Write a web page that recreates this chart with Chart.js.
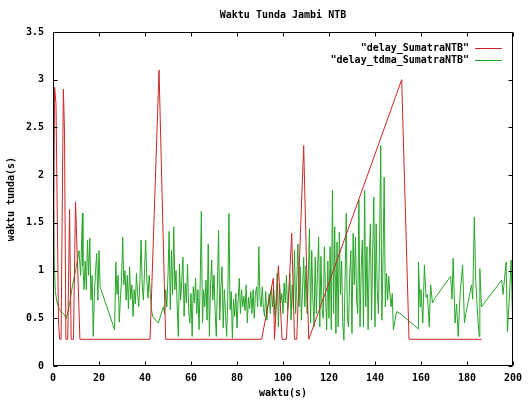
<!DOCTYPE html>
<html><head><meta charset="utf-8">
<style>html,body{margin:0;padding:0;background:#fff;}#wrap{width:528px;height:400px;}</style>
<script src="https://cdn.jsdelivr.net/npm/chart.js@4/dist/chart.umd.min.js"></script>
</head><body><div id="wrap"><canvas id="c" width="528" height="400"></canvas></div>
<script>
const chartTitle = 'Waktu Tunda Jambi NTB';
const xAxisTitle = 'waktu(s)';
const yAxisTitle = 'waktu tunda(s)';
const seriesLabels = ['"delay_SumatraNTB"', '"delay_tdma_SumatraNTB"'];
const xTicks = [0, 20, 40, 60, 80, 100, 120, 140, 160, 180, 200];
const yTicks = [0, 0.5, 1, 1.5, 2, 2.5, 3, 3.5];

const delayTime = [0, 0.7, 1.3, 2.4, 2.9, 3.5, 4.5, 5.0, 5.6, 6.4, 7.2, 7.9, 8.9, 9.8, 11.7,
  42.2, 46.1, 49.0, 90.7, 95.8, 96.3, 98.0, 99.6, 101.5, 103.8, 105.0, 106.0, 107.6, 109.0,
  110.2, 111.2, 151.6, 154.8, 186.5];
const delayValue = [0.28, 2.92, 2.75, 0.45, 0.28, 0.28, 2.90, 2.47, 0.28, 0.28, 1.64, 0.28, 0.28, 1.72, 0.28,
  0.28, 3.10, 0.28, 0.28, 0.92, 0.28, 1.05, 0.28, 0.28, 1.39, 0.28, 0.28, 1.40, 2.31,
  1.10, 0.28, 3.00, 0.28, 0.28];

const tdmaTime = [
  0, 0.3, 0.6, 1.0, 1.8, 3.0, 4.5, 5.8, 7.0, 8.5, 10.0, 11.3, 12.0, 12.8,
  13.0, 13.5, 14.0, 14.5, 15.0, 15.5, 16.0, 16.5, 17.0, 17.5, 18.0, 18.5, 19.0, 19.5, 20.0, 20.5, 20.9,
  26.8, 27.3, 27.8, 28.3, 28.8, 29.3, 29.8, 30.3, 30.8, 31.3, 31.8, 32.3, 32.8, 33.3, 33.8, 34.3,
  34.8, 35.3, 35.8, 36.3, 36.8, 37.3, 37.8, 38.3, 38.8, 39.3, 39.8, 40.3, 40.8, 41.3, 41.8, 42.3,
  42.8, 43.3, 45.8, 48.0,
  48.5, 49.0, 49.5, 50.0, 50.5, 51.0, 51.5, 52.0, 52.5, 53.0, 53.5, 54.0, 54.5, 55.0, 55.5, 56.0,
  56.5, 57.0, 57.5, 58.0, 58.5, 59.0, 59.5, 60.0, 60.5, 61.0, 61.5, 62.0, 62.5, 63.0, 63.5, 64.0,
  64.5, 65.0, 65.5, 66.0, 66.5, 67.0, 67.5, 68.0, 68.5, 69.0, 69.5, 70.0, 70.5, 71.0, 71.5, 72.0,
  72.5, 73.0, 73.5, 74.0, 74.5, 75.0, 75.5, 76.0, 76.5, 77.0, 77.5, 78.0, 78.5, 79.0, 79.5, 80.0,
  80.5, 81.0, 81.5, 82.0, 82.5, 83.0, 83.5, 84.0, 84.5, 85.0, 85.5, 86.0, 86.5, 87.0, 87.5, 88.0,
  88.5, 89.0, 89.5, 90.0, 90.5, 91.0, 91.5, 92.0, 92.5, 93.0,
  93.5, 94.0, 94.5, 95.0, 95.5, 96.0, 96.5, 97.0, 97.5, 98.0, 98.5, 99.0, 99.5, 100.0, 100.5, 101.0,
  101.5, 102.0, 102.5, 103.0, 103.5, 104.0, 104.5, 105.0, 105.5, 106.0, 106.5, 107.0, 107.5, 108.0,
  108.5, 109.0, 109.5, 110.0, 110.5, 111.0, 111.5, 112.0, 112.5, 113.0, 113.5, 114.0, 114.5, 115.0,
  115.5, 116.0, 116.5, 117.0, 117.5, 118.0, 118.5, 119.0, 119.5, 120.0, 120.5, 121.0, 121.5, 122.0,
  122.5, 123.0, 123.5, 124.0, 124.5, 125.0, 125.5, 126.0, 126.5, 127.0, 127.5, 128.0,
  128.5, 129.0, 129.5, 130.0, 130.5, 131.0, 131.5, 132.0, 132.5, 133.0, 133.5, 134.0, 134.5, 135.0,
  135.5, 136.0, 136.5, 137.0, 137.5, 138.0, 138.5, 139.0, 139.5, 140.0, 140.5, 141.0, 141.5, 142.0,
  142.5, 143.0, 143.5, 144.0, 144.5, 145.0, 145.5, 146.0, 146.5, 147.0, 147.5, 148.0, 149.4, 150.9,
  158.8, 158.9, 159.6, 160.0, 160.8, 161.5, 162.2, 162.8, 163.6, 164.2, 165.0, 166.0, 172.9, 173.5,
  174.0, 174.8, 175.5, 176.2, 177.0, 178.1, 178.9, 179.5, 182.0, 182.5, 183.2, 183.8, 184.6, 185.3,
  185.6, 186.3, 195.1, 195.7, 197.0, 197.6, 198.4, 199.2, 199.8, 200.9];
const tdmaValue = [
  1.28, 1.62, 1.05, 0.78, 0.66, 0.58, 0.55, 0.50, 0.62, 0.85, 1.02, 1.21, 0.95, 1.60,
  1.05, 0.80, 1.10, 0.80, 1.32, 0.95, 1.34, 0.69, 0.95, 0.31, 0.75, 1.00, 1.18, 0.69, 1.21, 0.83, 0.80,
  0.38, 1.09, 0.75, 0.95, 0.46, 0.70, 0.90, 1.35, 0.85, 1.00, 0.69, 0.95, 0.60, 1.04, 0.70, 0.85,
  0.52, 0.80, 0.65, 0.97, 0.75, 0.62, 0.90, 1.32, 0.85, 0.69, 1.00, 1.32, 0.90, 0.71, 0.95, 0.76,
  0.60, 0.52, 0.45, 0.62,
  0.55, 0.80, 0.62, 0.95, 1.41, 0.59, 1.21, 0.75, 1.46, 0.80, 1.00, 0.62, 0.31, 1.07, 0.69, 0.90,
  1.14, 0.52, 0.87, 0.66, 1.07, 0.58, 0.45, 0.76, 0.31, 0.83, 0.66, 0.92, 0.55, 0.80, 0.38, 0.87,
  1.62, 0.45, 0.80, 0.62, 0.90, 0.48, 1.28, 0.31, 0.85, 1.11, 0.69, 0.95, 0.58, 0.31, 0.87, 1.42,
  0.48, 0.82, 1.04, 0.40, 0.80, 0.55, 0.31, 0.72, 1.60, 0.59, 0.78, 0.29, 0.70, 0.52, 0.76, 0.40,
  0.68, 0.92, 0.55, 0.80, 0.62, 0.73, 0.58, 0.85, 0.45, 0.72, 0.60, 0.78, 0.55, 0.80, 0.50, 0.75,
  0.83, 0.62, 1.25, 0.70, 0.62, 0.83, 0.60, 0.52, 0.78, 0.48,
  0.65, 0.76, 0.55, 0.83, 0.62, 0.80, 0.52, 0.70, 0.97, 0.41, 0.87, 0.66, 0.76, 0.55, 0.87, 0.66,
  0.95, 0.58, 0.72, 0.97, 0.48, 0.85, 0.60, 1.21, 0.55, 0.90, 1.28, 0.62, 1.04, 0.48,
  0.80, 1.14, 0.62, 1.05, 0.55, 0.92, 1.44, 0.45, 1.21, 0.70, 0.41, 1.14, 0.55, 0.98,
  1.35, 0.41, 1.15, 0.60, 0.50, 1.25, 0.75, 0.38, 1.10, 0.50, 1.25, 0.38, 1.84, 0.55,
  1.46, 0.34, 1.30, 0.41, 1.40, 0.75, 1.10, 0.45, 0.27, 0.90, 1.60, 0.50,
  0.41, 0.95, 1.21, 0.34, 1.39, 0.85, 1.35, 0.69, 0.55, 1.74, 0.41, 1.00, 1.32, 0.41,
  1.84, 0.62, 1.25, 0.38, 1.10, 1.49, 0.48, 1.20, 1.77, 0.41, 1.49, 0.80, 0.55, 1.30,
  2.31, 0.48, 1.10, 1.98, 0.62, 0.97, 0.69, 0.94, 0.75, 0.62, 0.76, 0.38, 0.57, 0.55,
  0.39, 1.09, 0.62, 0.80, 0.45, 1.06, 0.72, 0.75, 0.41, 0.85, 0.66, 0.71, 0.94, 0.70,
  1.13, 0.45, 0.65, 0.31, 0.75, 1.06, 0.45, 0.55, 0.85, 0.70, 1.56, 0.90, 0.55, 0.31,
  1.02, 0.62, 0.90, 0.75, 1.09, 0.36, 0.70, 1.11, 0.52, 0.43];

const FONT = 'DejaVu Sans Mono';
const RED = 'rgb(200,40,40)';
const GREEN = 'rgb(40,165,40)';
const toPoints = (xs, ys) => xs.map((x, i) => ({x: x, y: ys[i]}));

const framePlugin = {
  id: 'frame',
  afterDraw(chart) {
    const {ctx, chartArea: a, scales: {x, y}} = chart;
    ctx.save();
    ctx.strokeStyle = '#000';
    ctx.lineWidth = 1;
    const L = Math.round(a.left) + 0.5, R = Math.round(a.right) - 0.5;
    const T = Math.round(a.top) + 0.5, B = Math.round(a.bottom) - 0.5;
    ctx.beginPath();
    ctx.rect(L, T, R - L, B - T);
    const tl = 4;
    xTicks.forEach(v => {
      const px = Math.round(x.getPixelForValue(v)) + 0.5;
      ctx.moveTo(px, B); ctx.lineTo(px, B - tl);
      ctx.moveTo(px, T); ctx.lineTo(px, T + tl);
    });
    yTicks.forEach(v => {
      const py = Math.round(y.getPixelForValue(v)) + 0.5;
      ctx.moveTo(L, py); ctx.lineTo(L + tl, py);
      ctx.moveTo(R, py); ctx.lineTo(R - tl, py);
    });
    ctx.stroke();
    ctx.fillStyle = '#000';
    ctx.font = 'bold 10px ' + FONT;
    ctx.textAlign = 'center';
    ctx.textBaseline = 'middle';
    ctx.fillText(chartTitle, (a.left + a.right) / 2, 15);
    const colors = [RED, GREEN];
    ctx.textAlign = 'right';
    seriesLabels.forEach((t, i) => {
      const yy = 48 + i * 12;
      ctx.fillStyle = '#000';
      ctx.fillText(t, 469, yy);
      ctx.strokeStyle = colors[i];
      ctx.beginPath();
      ctx.moveTo(475, yy + 0.5); ctx.lineTo(502, yy + 0.5);
      ctx.stroke();
    });
    ctx.restore();
  }
};

const tickFont = {family: FONT, size: 10, weight: 'bold'};

new Chart(document.getElementById('c').getContext('2d'), {
  type: 'line',
  data: {
    datasets: [
      {label: seriesLabels[0], data: toPoints(delayTime, delayValue), borderColor: RED,
       borderWidth: 1, pointRadius: 0, tension: 0, fill: false},
      {label: seriesLabels[1], data: toPoints(tdmaTime, tdmaValue), borderColor: GREEN,
       borderWidth: 1, pointRadius: 0, tension: 0, fill: false}
    ]
  },
  options: {
    responsive: false,
    animation: false,
    devicePixelRatio: 1,
    layout: {padding: {top: 32, right: 14, left: 0, bottom: 0}},
    plugins: {legend: {display: false}, title: {display: false}, tooltip: {enabled: false}},
    scales: {
      x: {
        type: 'linear', min: 0, max: 200,
        afterBuildTicks: s => { s.ticks = xTicks.map(v => ({value: v})); },
        grid: {display: false, drawTicks: false},
        border: {display: false},
        ticks: {font: tickFont, color: '#000', padding: 6, maxRotation: 0, autoSkip: false,
                callback: v => String(v)},
        title: {display: true, text: xAxisTitle, font: tickFont, color: '#000', padding: {top: 0, bottom: 1}},
        afterFit: s => { s.height = 34; }
      },
      y: {
        type: 'linear', min: 0, max: 3.5,
        afterBuildTicks: s => { s.ticks = yTicks.map(v => ({value: v})); },
        grid: {display: false, drawTicks: false},
        border: {display: false},
        ticks: {font: tickFont, color: '#000', padding: 9, autoSkip: false,
                callback: v => String(v)},
        title: {display: true, text: yAxisTitle, font: tickFont, color: '#000', padding: {top: 5, bottom: 0}},
        afterFit: s => { s.width = 53; }
      }
    }
  },
  plugins: [framePlugin]
});
</script></body></html>
